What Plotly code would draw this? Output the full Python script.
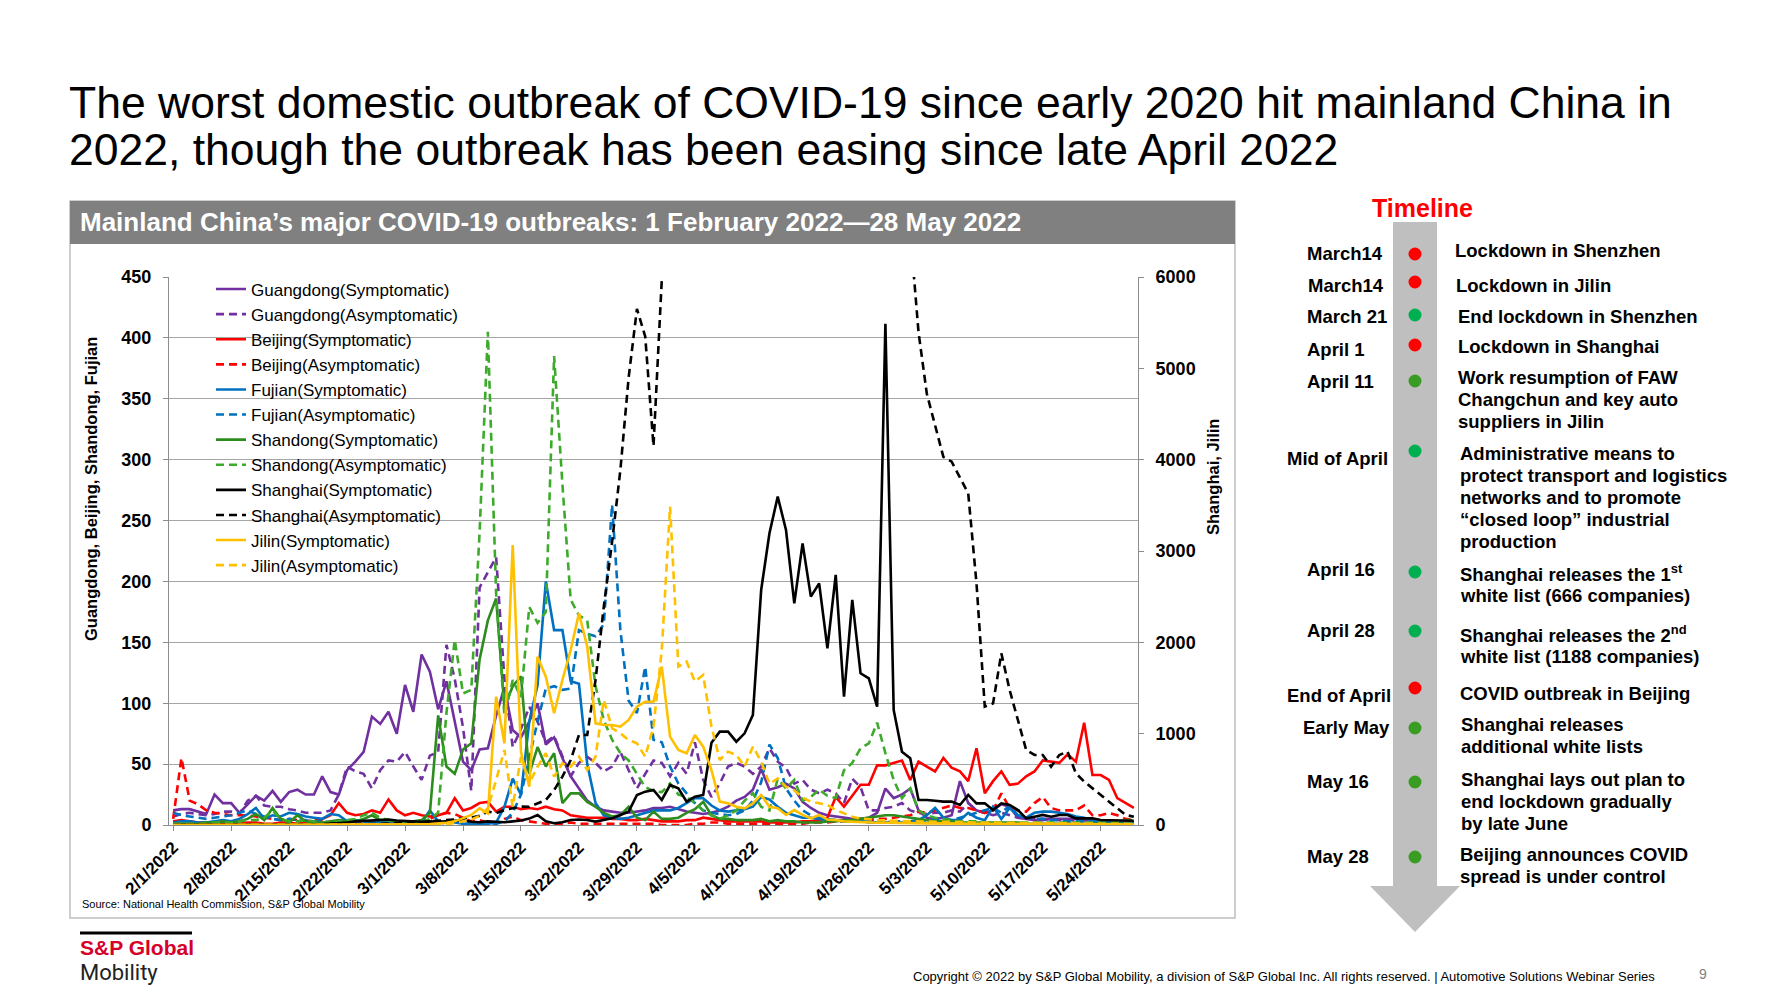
import plotly.graph_objects as go
import pandas as pd

W, H = 1778, 1000
L, R, T, B = 169, 1138, 277, 825
FONT = "Liberation Sans, Arial, sans-serif"

def px(x):
    return (x - L) / (R - L)

def py(y):
    return (B - y) / (B - T)

dates = pd.date_range("2022-02-01", "2022-05-28", freq="D")

# ---------------- data (daily new cases) ----------------
GD_S = [12, 13, 13, 11, 9, 25, 18, 18, 10, 17,
        24, 20, 28, 19, 27, 29, 25, 25, 40, 27,
        25, 45, 52, 60, 89, 83, 93, 75, 115, 93,
        140, 126, 95, 118, 85, 52, 45, 62, 63, 90,
        113, 78, 72, 85, 100, 66, 72, 55, 40, 30,
        20, 15, 12, 11, 10, 10, 11, 12, 14, 14,
        15, 13, 11, 10, 9, 10, 12, 15, 20, 23,
        29, 46, 29, 31, 34, 30, 19, 14, 10, 8,
        7, 6, 5, 5, 6, 10, 30, 22, 25, 30,
        12, 6, 5, 6, 8, 36, 18, 12, 10, 12,
        17, 15, 6, 5, 4, 4, 5, 5, 5, 5,
        4, 4, 3, 3, 3, 2, 2]
GD_A = [7, 9, 10, 9, 8, 9, 11, 11, 9, 20,
        24, 16, 15, 15, 13, 12, 10, 10, 10, 12,
        25, 48, 44, 42, 30, 45, 53, 52, 60, 48,
        37, 57, 60, 148, 120, 80, 28, 195, 208, 220,
        120, 64, 79, 97, 85, 68, 73, 56, 40, 51,
        56, 51, 44, 48, 60, 45, 30, 42, 53, 51,
        40, 51, 42, 68, 37, 23, 34, 48, 51, 48,
        42, 48, 63, 52, 47, 34, 37, 29, 26, 29,
        26, 18, 38, 31, 12, 12, 14, 15, 18, 12,
        10, 9, 10, 10, 12, 11, 18, 12, 10, 8,
        10, 8, 6, 6, 5, 5, 5, 4, 4, 4,
        4, 3, 3, 3, 3, 2, 2]
BJ_S = [3, 4, 3, 2, 2, 2, 1, 1, 1, 2,
        2, 1, 1, 2, 2, 1, 2, 3, 5, 8,
        18, 10, 8, 9, 12, 10, 21, 12, 8, 10,
        8, 7, 8, 10, 22, 12, 14, 18, 19, 11,
        15, 15, 13, 14, 13, 15, 13, 12, 8, 7,
        6, 6, 6, 5, 5, 4, 4, 5, 4, 3,
        3, 3, 4, 4, 6, 5, 4, 3, 3, 3,
        3, 3, 2, 2, 2, 2, 3, 3, 4, 6,
        23, 15, 24, 33, 33, 49, 49, 51, 53, 37,
        52, 48, 44, 55, 47, 44, 36, 63, 26, 36,
        44, 33, 34, 40, 44, 53, 52, 51, 58, 52,
        84, 41, 41, 37, 22, 18, 14]
BJ_A = [5, 55, 20, 17, 12, 10, 9, 8, 8, 8,
        7, 6, 5, 4, 5, 4, 3, 4, 3, 2,
        2, 2, 3, 2, 2, 1, 2, 1, 1, 2,
        3, 5, 8, 10, 9, 6, 3, 4, 2, 1,
        5, 7, 4, 3, 2, 1, 1, 1, 2, 1,
        1, 1, 1, 1, 1, 1, 1, 1, 1, 0,
        0, 0, 0, 1, 1, 2, 2, 1, 1, 1,
        1, 1, 1, 1, 1, 1, 1, 2, 2, 2,
        3, 3, 4, 4, 4, 5, 5, 6, 7, 8,
        11, 10, 12, 14, 16, 14, 14, 12, 10, 12,
        26, 14, 12, 11, 18, 23, 14, 12, 12, 12,
        16, 8, 8, 10, 8, 5, 4]
FJ_S = [2, 3, 3, 2, 2, 3, 4, 3, 5, 9,
        14, 5, 8, 7, 10, 9, 7, 6, 5, 9,
        8, 3, 4, 3, 2, 3, 2, 3, 2, 2,
        2, 12, 3, 2, 2, 1, 1, 1, 1, 2,
        15, 38, 25, 85, 115, 200, 160, 160, 118, 116,
        50, 18, 8, 6, 5, 6, 8, 10, 12, 12,
        12, 14, 18, 22, 22, 16, 12, 11, 12, 13,
        15, 23, 21, 15, 10, 8, 6, 6, 5, 4,
        4, 3, 3, 3, 3, 2, 2, 3, 2, 3,
        4, 8, 14, 6, 4, 4, 10, 6, 4, 15,
        5, 14, 8, 6, 10, 11, 11, 10, 9, 7,
        6, 4, 3, 3, 2, 2, 2]
FJ_A = [10, 8, 7, 6, 5, 6, 7, 8, 10, 12,
        9, 7, 5, 4, 5, 4, 4, 3, 3, 2,
        3, 4, 3, 2, 3, 2, 1, 1, 1, 2,
        2, 1, 1, 2, 3, 2, 1, 1, 1, 1,
        3, 10, 25, 55, 85, 112, 114, 111, 112, 160,
        157, 155, 165, 263, 160, 102, 92, 130, 70, 68,
        48, 34, 26, 18, 12, 10, 9, 8, 9, 12,
        20, 35, 66, 55, 30, 20, 12, 8, 6, 5,
        4, 3, 3, 3, 2, 2, 2, 3, 3, 2,
        3, 4, 5, 5, 4, 6, 8, 10, 12, 14,
        10, 16, 8, 6, 5, 5, 4, 4, 3, 3,
        3, 2, 2, 2, 2, 1, 1]
SD_S = [1, 1, 1, 1, 2, 2, 3, 2, 3, 5,
        9, 4, 14, 5, 2, 8, 3, 2, 2, 3,
        4, 3, 3, 5, 8, 4, 4, 3, 3, 3,
        4, 10, 90, 48, 42, 62, 67, 136, 168, 186,
        97, 114, 122, 42, 64, 48, 59, 18, 26, 26,
        19, 15, 10, 7, 8, 15, 6, 4, 11, 5,
        5, 6, 10, 13, 19, 8, 5, 5, 4, 4,
        4, 5, 3, 4, 3, 3, 2, 2, 2, 3,
        3, 4, 4, 5, 6, 7, 8, 8, 7, 6,
        5, 4, 3, 3, 3, 2, 2, 2, 2, 2,
        2, 2, 2, 1, 1, 1, 1, 1, 1, 1,
        1, 1, 1, 1, 1, 1, 1]
SD_A = [1, 1, 1, 1, 1, 2, 2, 2, 3, 4,
        4, 6, 12, 5, 3, 3, 4, 3, 2, 2,
        3, 4, 5, 8, 10, 6, 4, 3, 2, 2,
        2, 5, 10, 92, 152, 108, 111, 240, 405, 190,
        90, 119, 105, 179, 166, 175, 385, 280, 185, 172,
        168, 114, 86, 70, 59, 53, 42, 31, 28, 27,
        34, 25, 23, 18, 12, 8, 5, 8, 12, 20,
        26, 15, 12, 38, 30, 37, 20, 23, 29, 24,
        22, 45, 51, 63, 67, 84, 59, 37, 22, 30,
        12, 8, 6, 5, 4, 3, 3, 3, 2, 2,
        2, 2, 2, 2, 2, 2, 2, 2, 2, 2,
        2, 2, 2, 2, 3, 4, 4]
SH_S = [2, 1, 2, 3, 3, 5, 3, 3, 4, 4,
        5, 4, 5, 4, 6, 5, 7, 8, 10, 15,
        20, 27, 40, 45, 55, 60, 60, 50, 45, 40,
        35, 40, 35, 40, 45, 50, 35, 30, 40, 35,
        30, 40, 50, 70, 110, 40, 20, 30, 55, 60,
        55, 37, 55, 73, 110, 146, 329, 365, 383, 274,
        438, 402, 256, 310, 329, 900, 1022, 1022, 912, 1004,
        1205, 2573, 3194, 3595, 3230, 2427, 3084, 2500, 2646, 1935,
        2738, 1405, 2464, 1661, 1606, 1296, 5487, 1260, 803, 730,
        274, 274, 265, 256, 256, 219, 329, 237, 237, 164,
        237, 219, 164, 73, 91, 110, 91, 110, 110, 73,
        73, 73, 55, 55, 55, 50, 47]
SH_A = [0, 0, 0, 0, 0, 0, 0, 0, 1, 1,
        1, 1, 1, 1, 2, 1, 1, 2, 2, 3,
        3, 4, 5, 8, 10, 12, 15, 18, 20, 25,
        30, 40, 45, 55, 60, 76, 82, 100, 146, 130,
        164, 183, 201, 200, 237, 274, 383, 529, 712, 986,
        986, 1588, 2391, 3100, 3887, 4900, 5650, 5350, 4150, 6051,
        7788, 8581, 13086, 16766, 19660, 19982, 20398, 23937, 25173, 22348,
        25141, 25146, 19872, 19923, 21582, 19831, 17332, 16407, 15861, 15698,
        20634, 19657, 16983, 12309, 11956, 9330, 9545, 10181, 6606, 6500,
        5395, 4722, 4390, 4030, 3978, 3796, 3632, 2646, 1296, 1332,
        1880, 1478, 1150, 821, 767, 767, 639, 767, 803, 566,
        475, 402, 329, 256, 183, 110, 91]
JL_S = [0, 0, 0, 0, 0, 0, 0, 0, 0, 0,
        0, 0, 0, 0, 0, 0, 0, 0, 0, 0,
        0, 0, 0, 1, 1, 1, 2, 2, 3, 5,
        8, 10, 15, 25, 40, 73, 110, 183, 128, 1405,
        894, 3066, 800, 420, 1843, 1624, 1223, 1588, 1916, 2318,
        1953, 1113, 1095, 1095, 1077, 1150, 1296, 1350, 1350, 1734,
        967, 821, 785, 985, 858, 600, 256, 237, 200, 183,
        237, 329, 200, 183, 110, 164, 110, 73, 110, 60,
        55, 40, 35, 30, 30, 25, 25, 22, 20, 20,
        20, 18, 18, 16, 16, 15, 15, 14, 14, 13,
        12, 12, 12, 11, 11, 10, 10, 10, 9, 9,
        8, 8, 8, 7, 7, 7, 6]
JL_A = [0, 0, 0, 0, 0, 0, 0, 0, 0, 0,
        0, 0, 0, 0, 0, 0, 0, 0, 0, 0,
        0, 0, 0, 0, 0, 0, 0, 1, 1, 1,
        2, 3, 5, 10, 20, 40, 60, 100, 183, 493,
        821, 200, 748, 456, 639, 785, 529, 675, 639, 748,
        602, 748, 1369, 1059, 1004, 931, 894, 748, 1077, 1916,
        3486, 1734, 1789, 1570, 1643, 1077, 712, 803, 767, 639,
        858, 694, 450, 511, 420, 380, 300, 256, 240, 220,
        164, 128, 91, 70, 60, 55, 50, 45, 45, 40,
        40, 37, 37, 35, 33, 30, 30, 28, 26, 25,
        25, 24, 22, 22, 20, 20, 18, 18, 17, 16,
        15, 15, 14, 13, 12, 12, 11]

SERIES_NAMES = ["Guangdong(Symptomatic)", "Guangdong(Asymptomatic)",
                "Beijing(Symptomatic)", "Beijing(Asymptomatic)",
                "Fujian(Symptomatic)", "Fujian(Asymptomatic)",
                "Shandong(Symptomatic)", "Shandong(Asymptomatic)",
                "Shanghai(Symptomatic)", "Shanghai(Asymptomatic)",
                "Jilin(Symptomatic)", "Jilin(Asymptomatic)"]
SERIES_VALUES = [GD_S, GD_A, BJ_S, BJ_A, FJ_S, FJ_A, SD_S, SD_A, SH_S, SH_A, JL_S, JL_A]

TICK_DATES = pd.date_range("2022-02-01", "2022-05-24", freq="7D")
TICK_TEXT = [f"{d.month}/{d.day}/{d.year}" for d in TICK_DATES]

# ---------------- styles ----------------
COLORS = ["#7030A0", "#7030A0", "#FF0000", "#FF0000", "#0070C0", "#0070C0",
          "#2C8C1E", "#3DAA2C", "#000000", "#000000", "#FFC000", "#FFC000"]
DASH = "8px,5px"

fig = go.Figure()
for i, (name, vals) in enumerate(zip(SERIES_NAMES, SERIES_VALUES)):
    dashed = (i % 2 == 1)
    fig.add_trace(go.Scatter(
        x=dates, y=vals, mode="lines", name=name,
        line=dict(color=COLORS[i], width=2.6, dash=DASH if dashed else "solid"),
        yaxis="y2" if i >= 8 else "y",
    ))

shapes = []
annotations = []

def ann(x, y, text, size, color="black", bold=False, xanchor="left", yanchor="middle", angle=0, family=FONT):
    annotations.append(dict(
        x=px(x), y=py(y), xref="paper", yref="paper", text=text, showarrow=False,
        xanchor=xanchor, yanchor=yanchor, textangle=angle,
        font=dict(size=size, color=color, family=family, weight="bold" if bold else "normal")))

# chart frame and header
shapes.append(dict(type="rect", xref="paper", yref="paper", x0=px(70), x1=px(1235), y0=py(918), y1=py(201),
                   line=dict(color="#BFBFBF", width=1.5), fillcolor="rgba(0,0,0,0)", layer="below"))
shapes.append(dict(type="rect", xref="paper", yref="paper", x0=px(70), x1=px(1235), y0=py(244), y1=py(201),
                   line=dict(width=0), fillcolor="#808080", layer="below"))

# titles
ann(67, 102, "The worst domestic outbreak of COVID-19 since early 2020 hit mainland China in", 44.5)
ann(67, 149, "2022, though the outbreak has been easing since late April 2022", 44.5)
ann(78, 222, "Mainland China\u2019s major COVID-19 outbreaks: 1 February 2022\u201428 May 2022", 26, color="white", bold=True)

# axis titles
ann(91, 489, "Guangdong, Beijing, Shandong, Fujian", 16.5, bold=True, xanchor="center", angle=-90)
ann(1213, 477, "Shanghai, Jilin", 16.5, bold=True, xanchor="center", angle=-90)
ann(80, 904, "Source: National Health Commission, S&P Global Mobility", 11)

# timeline
ann(1422, 208, "Timeline", 25, color="#FF0000", bold=True, xanchor="center")
shapes.append(dict(type="rect", xref="paper", yref="paper", x0=px(1393), x1=px(1437), y0=py(887), y1=py(222),
                   line=dict(width=0), fillcolor="#BFBFBF", layer="below"))
shapes.append(dict(type="path", xref="paper", yref="paper",
                   path=f"M{px(1370)},{py(886)} L{px(1460)},{py(886)} L{px(1415)},{py(932)} Z",
                   line=dict(width=0), fillcolor="#BFBFBF", layer="below"))

RED = "#FF0000"
G1 = "#00B050"
G2 = "#3A9D23"
TL_DATES = ["March14", "March14", "March 21", "April 1", "April 11", "Mid of April",
            "April 16", "April 28", "End of April", "Early May", "May 16", "May 28"]
TL_EVENTS = [["Lockdown in Shenzhen"],
             ["Lockdown in Jilin"],
             ["End lockdown in Shenzhen"],
             ["Lockdown in Shanghai"],
             ["Work resumption of FAW", "Changchun and key auto", "suppliers in Jilin"],
             ["Administrative means to", "protect transport and logistics", "networks and to promote",
              "\u201cclosed loop\u201d industrial", "production"],
             ["Shanghai releases the 1<sup>st</sup>", "white list (666 companies)"],
             ["Shanghai releases the 2<sup>nd</sup>", "white list (1188 companies)"],
             ["COVID outbreak in Beijing"],
             ["Shanghai releases", "additional white lists"],
             ["Shanghai lays out plan to", "end lockdown gradually", "by late June"],
             ["Beijing announces COVID", "spread is under control"]]
TL_COLORS = [RED, RED, G1, RED, G2, G1, G1, G1, RED, G2, G2, G2]
TL_LABEL_POS = [(1305, 253), (1306, 285), (1305, 316), (1305, 349), (1305, 381), (1285, 458),
                (1305, 569), (1305, 630), (1285, 695), (1301, 727), (1305, 781), (1305, 856)]
TL_DOT_Y = [254, 282, 315, 345, 381, 451, 572, 631, 688, 728, 782, 857]
TL_TEXT_X = [1453, 1454, 1456, 1456, 1456, 1458, 1458, 1458, 1458, 1459, 1459, 1458]
TL_TEXT_Y = [250, 285, 316, 346, 377, 453, 573, 634, 693, 724, 779, 854]
LINE_GAP = 22.2

for i in range(len(TL_DATES)):
    lx, ly = TL_LABEL_POS[i]
    ann(lx, ly, TL_DATES[i], 18.5, bold=True)
    r = 6.5
    shapes.append(dict(type="circle", xref="paper", yref="paper",
                       x0=px(1415 - r), x1=px(1415 + r), y0=py(TL_DOT_Y[i] + r), y1=py(TL_DOT_Y[i] - r),
                       line=dict(width=0), fillcolor=TL_COLORS[i]))
    for j, line in enumerate(TL_EVENTS[i]):
        ann(TL_TEXT_X[i], TL_TEXT_Y[i] + j * LINE_GAP, line, 18.5, bold=True)

# logo & footer
shapes.append(dict(type="line", xref="paper", yref="paper", x0=px(80), x1=px(192), y0=py(933), y1=py(933),
                   line=dict(color="black", width=3)))
ann(78, 947, "S&P Global", 21, color="#D6002A", bold=True)
ann(78, 972, "Mobility", 22, color="#222222", family="Roboto, Liberation Sans, sans-serif")
ann(911, 977, "Copyright \u00a9 2022 by S&P Global Mobility, a division of S&P Global Inc. All rights reserved. | Automotive Solutions Webinar Series", 13)
ann(1703, 974, "9", 14, color="#808080", xanchor="center")

AX_GRAY = "#8C8C8C"
fig.update_layout(
    width=W, height=H,
    margin=dict(l=L, r=W - R, t=T, b=H - B, pad=0),
    paper_bgcolor="white", plot_bgcolor="white",
    font=dict(family=FONT, color="black"),
    showlegend=True,
    legend=dict(x=px(211), y=py(271.5), xanchor="left", yanchor="top",
                bgcolor="rgba(0,0,0,0)", borderwidth=0,
                font=dict(size=17, color="black", family=FONT), tracegroupgap=0),
    xaxis=dict(type="date", range=["2022-01-31 12:00", "2022-05-28 12:00"],
               tickmode="array", tickvals=list(TICK_DATES), ticktext=TICK_TEXT, tickangle=-45,
               ticks="outside", ticklen=5, tickcolor=AX_GRAY, showline=True, linecolor=AX_GRAY, linewidth=1,
               showgrid=False, zeroline=False,
               tickfont=dict(size=17, family=FONT, color="black", weight="bold")),
    yaxis=dict(range=[0, 450], dtick=50, showgrid=True, gridcolor="#A6A6A6", gridwidth=1,
               showline=True, linecolor=AX_GRAY, linewidth=1, ticks="outside", ticklen=5, tickcolor=AX_GRAY,
               zeroline=False, ticklabelstandoff=8,
               tickfont=dict(size=18, family=FONT, color="black", weight="bold")),
    yaxis2=dict(overlaying="y", side="right", range=[0, 6000], dtick=1000, showgrid=False,
                showline=True, linecolor=AX_GRAY, linewidth=1, ticks="outside", ticklen=5, tickcolor=AX_GRAY,
                zeroline=False, ticklabelstandoff=8,
                tickfont=dict(size=18, family=FONT, color="black", weight="bold")),
    shapes=shapes,
    annotations=annotations,
)

fig.write_html("out.html")
